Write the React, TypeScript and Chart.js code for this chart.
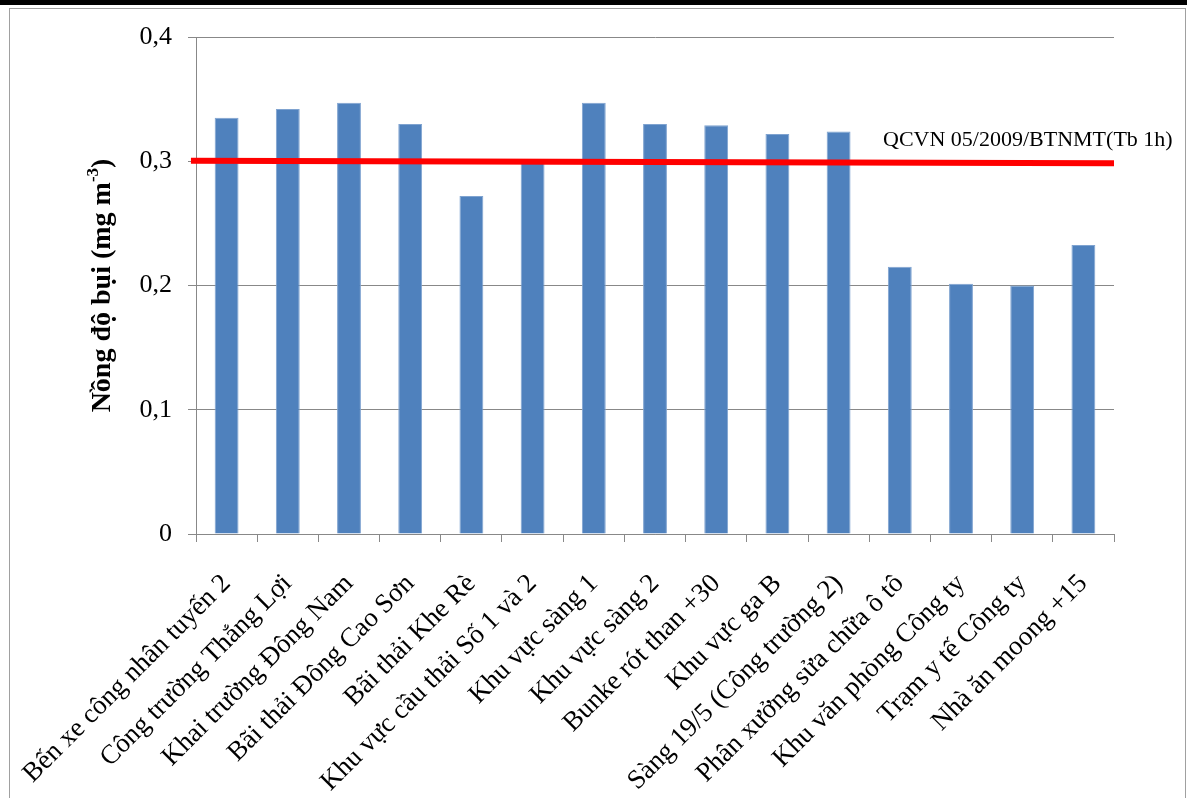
import React, { useEffect, useRef } from "react";
import { Chart, registerables } from "chart.js";

Chart.register(...registerables);

// Sampling sites
const categories = [
  "Bến xe công nhân tuyến 2",
  "Công trường Thắng Lợi",
  "Khai trường Đông Nam",
  "Bãi thải Đông Cao Sơn",
  "Bãi thải Khe Rè",
  "Khu vực cầu thải Số 1 và 2",
  "Khu vực sàng 1",
  "Khu vực sàng 2",
  "Bunke rót than +30",
  "Khu vực ga B",
  "Sàng 19/5 (Công trường 2)",
  "Phân xưởng sửa chữa ô tô",
  "Khu văn phòng Công ty",
  "Trạm y tế Công ty",
  "Nhà ăn moong +15",
];

// Dust concentration, mg/m3
const dustValues = [
  0.335, 0.342, 0.347, 0.33, 0.272, 0.299, 0.347, 0.33, 0.329, 0.322, 0.324,
  0.215, 0.2015, 0.2, 0.2325,
];

// Limit line (QCVN 05/2009/BTNMT, 1-hour average), start and end
const limitLinePoints = [
  { x: 0, y: 0.3005 },
  { x: 1, y: 0.2983 },
];
const limitLabel = "QCVN 05/2009/BTNMT(Tb 1h)";

const yTicks = [0, 0.1, 0.2, 0.3, 0.4];
const yTitleMain = "Nồng độ bụi (mg m";
const yTitleSup = "-3";
const yTitleEnd = ")";

const SERIF = "'Liberation Serif', 'Times New Roman', serif";

const overlayPlugin = {
  id: "overlayText",
  afterDraw(chart: any) {
    const { ctx, chartArea } = chart;
    ctx.save();
    // limit line caption
    const yScale = chart.scales.y;
    const yEnd = yScale.getPixelForValue(limitLinePoints[1].y);
    ctx.font = `22px ${SERIF}`;
    ctx.fillStyle = "#000";
    ctx.textAlign = "left";
    ctx.textBaseline = "alphabetic";
    ctx.fillText(limitLabel, chartArea.right - 231, yEnd - 17);

    // vertical axis title with superscript
    const cx = 103;
    const cy = (chartArea.top + chartArea.bottom) / 2;
    ctx.translate(cx, cy);
    ctx.rotate(-Math.PI / 2);
    const mainFont = `bold 28px ${SERIF}`;
    const supFont = `bold 17px ${SERIF}`;
    ctx.font = mainFont;
    const w1 = ctx.measureText(yTitleMain).width;
    const w3 = ctx.measureText(yTitleEnd).width;
    ctx.font = supFont;
    const w2 = ctx.measureText(yTitleSup).width;
    const total = w1 + w2 + w3;
    let x = -total / 2;
    ctx.textBaseline = "middle";
    ctx.font = mainFont;
    ctx.fillText(yTitleMain, x, 0);
    x += w1;
    ctx.font = supFont;
    ctx.fillText(yTitleSup, x, -9);
    x += w2;
    ctx.font = mainFont;
    ctx.fillText(yTitleEnd, x, 0);
    ctx.restore();
  },
};

export default function App() {
  const canvasRef = useRef<HTMLCanvasElement | null>(null);

  useEffect(() => {
    if (!canvasRef.current) return;
    const chart = new Chart(canvasRef.current, {
      type: "bar",
      data: {
        labels: categories,
        datasets: [
          {
            type: "bar",
            data: dustValues,
            backgroundColor: "#4F81BD",
            borderColor: "#7FA3D0",
            borderWidth: 1,
            barPercentage: 0.39,
            categoryPercentage: 1,
            grouped: false,
            order: 2,
          } as any,
          {
            type: "line",
            data: limitLinePoints,
            xAxisID: "xLine",
            borderColor: "#FF0000",
            borderWidth: 6,
            pointRadius: 0,
            clip: false,
            order: 1,
          } as any,
        ],
      },
      options: {
        animation: false,
        responsive: false,
        devicePixelRatio: 1,
        layout: { padding: { top: 37, right: 73, left: 0, bottom: 0 } },
        plugins: {
          legend: { display: false },
          tooltip: { enabled: false },
        },
        scales: {
          x: {
            type: "category",
            offset: true,
            border: { color: "#888888", width: 1 },
            grid: {
              offset: true,
              drawOnChartArea: false,
              drawTicks: true,
              tickLength: 8,
              color: "#888888",
            },
            ticks: {
              autoSkip: false,
              minRotation: 45,
              maxRotation: 45,
              padding: 26,
              color: "#000",
              font: { family: SERIF, size: 27 },
            },
            afterFit(scale: any) {
              scale.height = 264;
              scale.paddingLeft = 0;
              scale.paddingRight = 0;
            },
          },
          xLine: {
            type: "linear",
            display: false,
            offset: false,
            bounds: "data",
            min: 0.0055,
            max: 1,
          },
          y: {
            min: 0,
            max: 0.4,
            border: { color: "#888888", width: 1 },
            grid: { color: "#888888", tickLength: 8, lineWidth: 1 },
            afterBuildTicks(scale: any) {
              scale.ticks = yTicks.map((v) => ({ value: v }));
            },
            ticks: {
              padding: 16,
              color: "#000",
              font: { family: SERIF, size: 26 },
              callback: (v: any) =>
                Number(v) === 0 ? "0" : Number(v).toFixed(1).replace(".", ","),
            },
            afterFit(scale: any) {
              scale.width = 196;
            },
          },
        },
      },
      plugins: [overlayPlugin],
    } as any);
    return () => chart.destroy();
  }, []);

  return (
    <div
      style={{
        position: "fixed",
        left: 0,
        top: 0,
        width: 1187,
        height: 798,
        background: "#fff",
        overflow: "hidden",
      }}
    >
      <div
        style={{
          position: "absolute",
          left: 0,
          top: 0,
          width: 1187,
          height: 5,
          background: "#000",
        }}
      />
      <div
        style={{
          position: "absolute",
          left: 9,
          top: 8,
          width: 1177,
          height: 800,
          border: "1.5px solid #a0a0a0",
          boxSizing: "border-box",
        }}
      />
      <canvas
        ref={canvasRef}
        width={1187}
        height={798}
        style={{ position: "absolute", left: 0, top: 0, width: 1187, height: 798 }}
      />
    </div>
  );
}
